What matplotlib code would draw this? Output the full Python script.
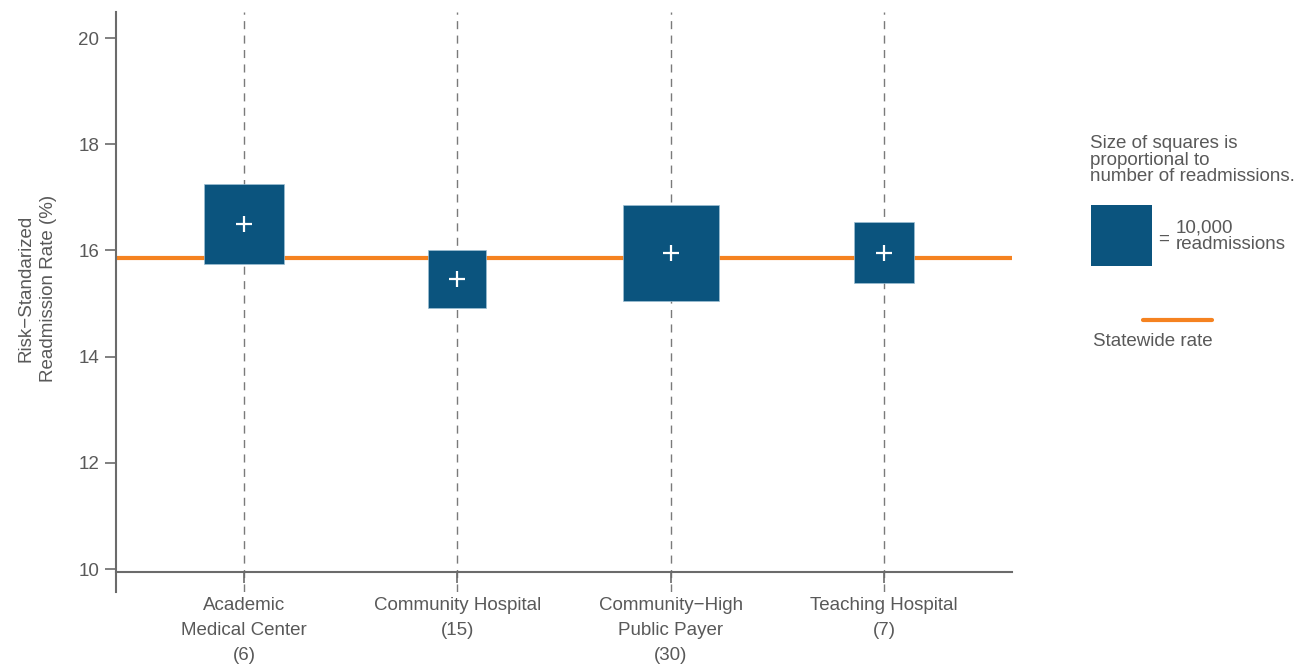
import numpy as np
import matplotlib
matplotlib.use('Agg')
import matplotlib.pyplot as plt
from matplotlib.lines import Line2D

plt.rcParams['font.family'] = ['Liberation Sans', 'DejaVu Sans']

# data
categories = ['Academic\nMedical Center\n(6)', 'Community Hospital\n(15)',
              'Community\u2212High\nPublic Payer\n(30)', 'Teaching Hospital\n(7)']
rates = [16.50, 15.47, 15.96, 15.96]
readmissions = [17000, 9050, 24800, 9850]
statewide_rate = 15.85
legend_n = 10000
y_ticks = [10, 12, 14, 16, 18, 20]

TEXT = '#595959'
AXIS = '#6b6b6b'
BLUE = '#0b547e'
ORANGE = '#f58220'
FS = 13.5

DPI = 100
fig = plt.figure(figsize=(12.97, 6.71), dpi=DPI)
ax = fig.add_axes([116 / 1297, 1 - 592 / 671, (1012 - 116) / 1297, (592 - 12) / 671])

# spine position first, it resets the ticks
for s in ['top', 'right']:
    ax.spines[s].set_visible(False)
ax.spines['bottom'].set_position(('data', 9.94))
ax.spines['left'].set_color(AXIS)
ax.spines['left'].set_linewidth(1.5)
ax.spines['bottom'].set_color(AXIS)
ax.spines['bottom'].set_linewidth(1.5)

x = np.arange(1, len(categories) + 1)


def side_pts(n):
    # square side grows with sqrt(count): 10,000 -> 61 px
    return 61 * np.sqrt(n / legend_n) * 72 / DPI


for xi in x:
    ax.axvline(xi, color='#7a7a7a', lw=1.0, ls=(0, (5.8, 4.6)), zorder=1)

ax.axhline(statewide_rate, color=ORANGE, lw=3.0, zorder=2)

sizes = [side_pts(n) ** 2 for n in readmissions]
ax.scatter(x, rates, s=sizes, marker='s', color=BLUE, edgecolors='#9dbfd3',
           linewidths=0.5, zorder=3)
ax.scatter(x, rates, s=12 ** 2, marker='+', color='white', linewidths=1.6, zorder=4)

ax.set_xlim(0.4, 4.6)
ax.set_ylim(9.567, 20.49)
ax.set_yticks(y_ticks)
ax.set_xticks(x)
ax.set_xticklabels(categories, linespacing=1.62)
ax.tick_params(axis='y', labelsize=FS, labelcolor=TEXT, color=AXIS, length=8, width=1.2, pad=4)
ax.tick_params(axis='x', labelsize=FS, labelcolor=TEXT, color=AXIS, length=8, width=1.2, pad=10)

ax.set_ylabel('Risk\u2212Standarized\nReadmission Rate (%)', fontsize=FS, color=TEXT,
              linespacing=1.45, labelpad=8)
ax.yaxis.set_label_coords(-0.066, (592 - 288) / 580)

# legend (size key + statewide line)
fig.text(1090 / 1297, 1 - 135 / 671, 'Size of squares is\nproportional to\nnumber of readmissions.',
         fontsize=FS, color=TEXT, linespacing=0.97, va='top', ha='left')
ax.scatter([1120.5 / 1297], [1 - 234.5 / 671], s=side_pts(legend_n) ** 2, marker='s',
           color=BLUE, linewidths=0, transform=fig.transFigure, clip_on=False)
fig.text(1158 / 1297, 1 - 239 / 671, '=', fontsize=FS, color=TEXT, va='center', ha='left')
fig.text(1176 / 1297, 1 - 236 / 671, f'{legend_n:,}\nreadmissions', fontsize=FS, color=TEXT,
         linespacing=0.97, va='center', ha='left')
fig.add_artist(Line2D([1143 / 1297, 1212 / 1297], [1 - 320 / 671, 1 - 320 / 671],
                      color=ORANGE, lw=3.0, solid_capstyle='round', transform=fig.transFigure))
fig.text(1153 / 1297, 1 - 341 / 671, 'Statewide rate', fontsize=FS, color=TEXT,
         va='center', ha='center')

fig.savefig('out.png', dpi=DPI)
